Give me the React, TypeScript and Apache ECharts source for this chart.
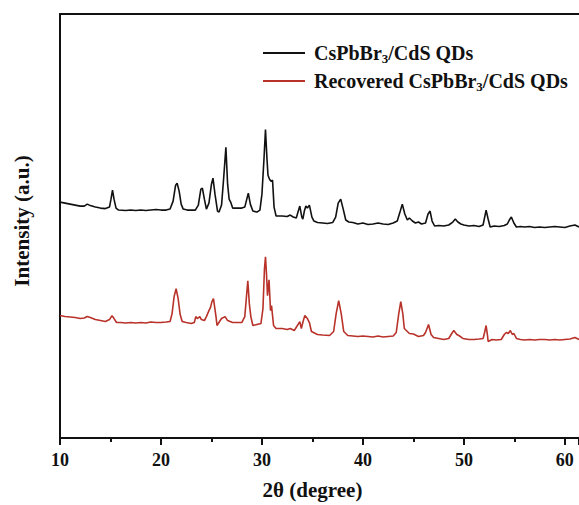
import React, { useEffect, useRef } from "react";
import * as echarts from "echarts";

// 2θ positions and intensities (a.u.)
const asPrepared2Theta = [
  10.0, 10.5, 11.0, 11.5, 12.0, 12.4, 12.7, 13.0, 13.5, 14.0, 14.5, 14.9, 15.05, 15.2, 15.35, 15.55, 15.8,
  16.5, 17.0, 17.5, 18.0, 18.5, 19.0, 19.5, 20.0, 20.5, 20.9, 21.2, 21.45, 21.6, 21.8, 22.0, 22.2, 22.6,
  23.0, 23.4, 23.7, 23.95, 24.1, 24.3, 24.5, 24.75, 25.0, 25.15, 25.35, 25.6, 25.75, 26.0, 26.2, 26.43,
  26.6, 26.75, 26.9, 27.1, 27.5, 28.0, 28.3, 28.5, 28.65, 28.85, 29.1, 29.5, 29.8, 30.0, 30.2, 30.35,
  30.5, 30.6, 30.75, 30.9, 31.05, 31.2, 31.4, 32.0, 32.5, 32.8, 33.1, 33.4, 33.6, 33.75, 33.95, 34.05,
  34.2, 34.35, 34.5, 34.7, 34.95, 35.15, 35.5, 36.0, 36.5, 37.0, 37.3, 37.55, 37.8, 38.05, 38.3, 38.6,
  39.0, 39.5, 40.0, 40.5, 41.0, 41.5, 42.0, 42.5, 43.0, 43.4, 43.7, 43.9, 44.15, 44.4, 44.6, 44.9, 45.2,
  45.5, 45.8, 46.2, 46.45, 46.65, 46.85, 47.1, 47.5, 48.0, 48.5, 48.9, 49.15, 49.4, 49.7, 50.0, 50.5,
  51.0, 51.5, 51.9, 52.1, 52.2, 52.4, 52.6, 53.0, 53.5, 54.0, 54.3, 54.5, 54.7, 54.95, 55.2, 55.6, 56.0,
  56.5, 57.0, 57.5, 58.0, 58.5, 59.0, 59.5, 60.0, 60.5, 61.0, 61.4,
];
const asPreparedIntensity = [
  237, 236, 235, 234, 233, 233, 235, 233.5, 232, 231, 230.5, 232, 240, 249, 240, 231, 229,
  228.5, 229, 228.5, 229, 228.5, 229, 229.5, 229, 229, 230, 238, 254, 256, 248, 235, 230, 229,
  229, 229, 234, 250, 251, 240, 230, 236, 255, 261, 245, 228, 227, 234, 260, 292,
  255, 240, 237, 231, 231, 231, 232, 240, 246, 235, 228, 227, 229, 245, 280, 310,
  280, 264, 260, 258, 259, 232, 223, 223, 222.5, 224, 222, 221, 228, 233, 222, 220,
  228, 233, 231, 234, 222, 218, 216.5, 216, 215.5, 216.5, 222, 236, 240, 230, 219, 217,
  216.5, 215, 216, 214.5, 215, 216, 215, 214.5, 216, 218, 228, 235, 225, 219, 221, 218, 216,
  217, 215, 216, 225, 228, 218, 213, 213.5, 213, 214, 217, 220, 217, 215, 214, 213,
  213.5, 212.5, 214, 224, 229, 220, 212, 213, 212.5, 213.5, 215, 219, 222, 216, 212, 212.5, 212,
  212.5, 211.5, 212, 211.5, 212, 212.5, 212, 211.5, 213, 214, 212,
];

const recovered2Theta = [
  10.0, 10.5, 11.0, 11.5, 12.0, 12.4, 12.7, 13.0, 13.5, 14.0, 14.5, 14.9, 15.15, 15.35, 15.6, 16.0,
  16.5, 17.0, 17.5, 18.0, 18.5, 19.0, 19.5, 20.0, 20.5, 20.9, 21.1, 21.3, 21.5, 21.7, 21.9, 22.1, 22.5,
  23.0, 23.3, 23.45, 23.6, 23.85, 24.0, 24.3, 24.5, 24.75, 24.9, 25.05, 25.2, 25.45, 25.55, 25.8, 26.0,
  26.35, 26.6, 27.1, 27.5, 28.0, 28.3, 28.45, 28.6, 28.75, 28.9, 29.1, 29.5, 29.9, 30.1, 30.25, 30.35,
  30.45, 30.55, 30.7, 30.85, 30.95, 31.15, 31.4, 32.0, 32.5, 32.8, 33.2, 33.45, 33.75, 33.9, 34.1, 34.25,
  34.5, 34.7, 34.9, 35.5, 36.0, 36.7, 37.1, 37.35, 37.6, 37.85, 38.1, 38.5, 39.0, 39.5, 40.0, 40.5,
  41.0, 41.5, 42.0, 42.5, 43.0, 43.3, 43.55, 43.75, 43.95, 44.1, 44.3, 44.6, 45.0, 45.5, 46.0, 46.2,
  46.5, 46.75, 47.0, 47.5, 48.0, 48.5, 48.8, 49.0, 49.3, 49.5, 49.9, 50.5, 51.0, 51.5, 51.9, 52.05,
  52.2, 52.35, 52.4, 52.8, 53.2, 53.7, 54.0, 54.2, 54.4, 54.6, 54.8, 54.95, 55.2, 55.6, 56.0, 56.5,
  57.0, 57.5, 58.0, 58.5, 59.0, 59.5, 60.0, 60.5, 61.0, 61.4,
];
const recoveredIntensity = [
  123, 122, 121.5, 121, 120, 120.5, 122, 121, 119, 118, 117, 119, 123, 120, 116, 116,
  115.5, 116, 115.5, 116, 115.5, 116.5, 116, 116, 116.5, 117, 125, 142, 150, 140, 124, 117, 116,
  115, 116, 122, 120, 122, 119, 118, 122, 128, 131, 137, 140, 122, 113, 117, 120,
  122, 118, 116, 116, 116, 122, 140, 158, 135, 122, 113, 114, 115, 130, 170, 182,
  165, 143, 159, 128, 133, 113, 110, 110, 109, 110, 108, 112, 117, 110, 118, 123,
  120, 116, 107, 104, 103.5, 103, 107, 125, 138, 125, 107, 103, 102.5, 102, 102.5, 102,
  101.5, 102.5, 101.5, 102, 102.5, 106, 125, 137, 125, 110, 108, 105, 104.5, 102, 103, 106,
  114, 104, 101, 100, 99, 100, 105, 108, 104, 103, 100, 99, 99, 99.5, 100, 106,
  113, 102, 97, 99, 98.5, 99, 104, 106, 105, 108, 104, 105, 100, 99, 98.5, 99,
  98.5, 99, 99, 98.5, 99, 98.5, 99, 99.5, 101, 99,
];

const xTicks = [10, 20, 30, 40, 50, 60];
const seriesNames = ["CsPbBr3/CdS QDs", "Recovered CsPbBr3/CdS QDs"];

const FONT = "'Liberation Serif', 'Times New Roman', serif";

export default function App() {
  const ref = useRef<HTMLDivElement>(null);
  useEffect(() => {
    if (!ref.current) return;
    const chart = echarts.init(ref.current, undefined, { renderer: "svg" });
    const pair = (xs: number[], ys: number[]) => xs.map((x, i) => [x, ys[i]]);
    const legendLabel = (name: string) =>
      name.includes("Recovered")
        ? "{a|Recovered CsPbBr}{s|3}{a|/CdS QDs}"
        : "{a|CsPbBr}{s|3}{a|/CdS QDs}";
    chart.setOption({
      animation: false,
      backgroundColor: "#ffffff",
      grid: { left: 60, right: 0, top: 14, bottom: 65, containLabel: false },
      legend: {
        orient: "vertical",
        left: 263,
        top: 42,
        padding: 0,
        icon: "rect",
        itemWidth: 42,
        itemHeight: 2,
        itemGap: 5,
        data: seriesNames,
        formatter: legendLabel,
        textStyle: {
          fontFamily: FONT,
          fontWeight: "bold",
          color: "#111",
          padding: [0, 0, 0, 4],
          rich: {
            a: { fontFamily: FONT, fontWeight: "bold", fontSize: 20, color: "#111", lineHeight: 24 },
            s: { fontFamily: FONT, fontWeight: "bold", fontSize: 13, color: "#111", lineHeight: 24, verticalAlign: "bottom", padding: [10, 0, 0, 0] },
          },
        },
      },
      xAxis: [
        {
          type: "value",
          min: 10,
          max: 61.4,
          interval: 10,
          position: "bottom",
          name: "2θ (degree)",
          nameLocation: "middle",
          nameGap: 41,
          nameTextStyle: { fontFamily: FONT, fontWeight: "bold", fontSize: 21, color: "#111", padding: [0, 14, 0, 0] },
          axisLine: { show: true, onZero: false, lineStyle: { color: "#111", width: 2 } },
          axisTick: { show: true, inside: false, length: 7, lineStyle: { color: "#111", width: 2 } },
          minorTick: { show: true, splitNumber: 2, length: 4, lineStyle: { color: "#111", width: 2 } },
          axisLabel: {
            fontFamily: FONT,
            fontWeight: "bold",
            fontSize: 18,
            color: "#111",
            margin: 13,
            customValues: xTicks,
            formatter: (v: number) => String(v),
          },
          splitLine: { show: false },
        },
        {
          type: "value",
          min: 10,
          max: 61.4,
          position: "top",
          axisLine: { show: true, onZero: false, lineStyle: { color: "#111", width: 2 } },
          axisTick: { show: false },
          axisLabel: { show: false },
          splitLine: { show: false },
        },
      ],
      yAxis: {
        type: "value",
        min: 0,
        max: 426,
        name: "Intensity (a.u.)",
        nameLocation: "middle",
        nameGap: 28,
        nameTextStyle: { fontFamily: FONT, fontWeight: "bold", fontSize: 21, color: "#111", padding: [0, 0, 0, 10] },
        axisLine: { show: true, onZero: false, lineStyle: { color: "#111", width: 2 } },
        axisTick: { show: false },
        axisLabel: { show: false },
        splitLine: { show: false },
      },
      series: [
        {
          name: seriesNames[0],
          type: "line",
          data: pair(asPrepared2Theta, asPreparedIntensity),
          showSymbol: false,
          symbol: "none",
          lineStyle: { color: "#111111", width: 1.6 },
          itemStyle: { color: "#111111" },
        },
        {
          name: seriesNames[1],
          type: "line",
          data: pair(recovered2Theta, recoveredIntensity),
          showSymbol: false,
          symbol: "none",
          lineStyle: { color: "#b8322a", width: 1.6 },
          itemStyle: { color: "#b8322a" },
        },
      ],
    });
    return () => chart.dispose();
  }, []);
  return (
    <div
      ref={ref}
      style={{ position: "fixed", left: 0, top: 0, width: 579, height: 505, background: "#fff" }}
    />
  );
}
